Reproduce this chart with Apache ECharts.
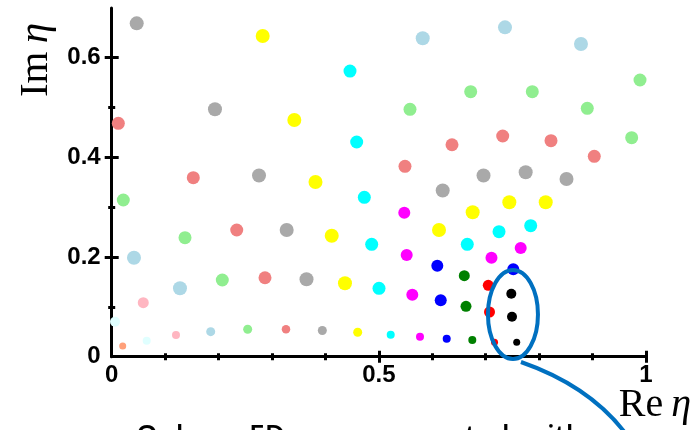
<!DOCTYPE html>
<html>
<head>
<meta charset="utf-8">
<script src="https://cdn.jsdelivr.net/npm/echarts@6/dist/echarts.min.js"></script>
<style>
html,body{margin:0;padding:0;background:#fff;}
#chart{width:698px;height:430px;}
</style>
</head>
<body>
<div id="chart"></div>
<script>
// ---------- data (Re eta, Im eta) ----------
const darkgray = [[0.0468,0.669],[0.1933,0.4965],[0.2757,0.3636],[0.3275,0.2543],[0.3646,0.1555],[0.3942,0.0526],[0.6195,0.3335],[0.6959,0.3636],[0.7748,0.3703],[0.8512,0.3566]];
const yellow = [[0.2826,0.6436],[0.3418,0.4750],[0.3814,0.3506],[0.4118,0.2428],[0.4366,0.1473],[0.4604,0.0490],[0.6126,0.2543],[0.6756,0.2898],[0.7442,0.3099],[0.8123,0.3099]];
const lightblue = [[0.5821,0.6390],[0.7361,0.6610],[0.8783,0.6275],[0.0417,0.1987],[0.1278,0.1373],[0.1853,0.0502]];
const lightgreen = [[0.9888,0.5553],[0.5583,0.4965],[0.6719,0.5318],[0.7872,0.5318],[0.8901,0.4985],[0.9732,0.4395],[0.0217,0.3145],[0.1372,0.2388],[0.2070,0.1539],[0.2545,0.0550]];
const lightcoral = [[0.0124,0.4684],[0.1527,0.3592],[0.2340,0.2543],[0.2869,0.1585],[0.3262,0.0550],[0.5489,0.3821],[0.6369,0.4254],[0.7318,0.4429],[0.8222,0.4335],[0.9032,0.4022]];
const cyan = [[0.4460,0.5733],[0.4585,0.4309],[0.4728,0.3199],[0.4866,0.2256],[0.5003,0.1373],[0.5222,0.0441],[0.6655,0.2256],[0.7249,0.2509],[0.7842,0.2629]];
const magenta = [[0.5476,0.2890],[0.5521,0.2041],[0.5626,0.1244],[0.5770,0.0401],[0.7108,0.1987],[0.7655,0.2181]];
const blue = [[0.6094,0.1826],[0.6158,0.1132],[0.6270,0.0361],[0.7516,0.1754]];
const green = [[0.6599,0.1626],[0.6631,0.1011],[0.6749,0.0335]];
const red = [[0.7048,0.1433],[0.7071,0.0897],[0.7165,0.0289]];
const black = [[0.7479,0.1264],[0.7492,0.0803],[0.7580,0.0289]];
const pink = [[0.0591,0.1084],[0.1203,0.0435]];
const lightcyan = [[0.0062,0.0702],[0.0655,0.0321]];
const lightsalmon = [[0.0206,0.0215]];

const xTickLabels = [0, 0.5, 1];
const yTickLabels = [0, 0.2, 0.4, 0.6];
const xMajorTicks = [0.5, 1];
const xMinorTicks = [0.1, 0.2, 0.3, 0.4, 0.6, 0.7, 0.8, 0.9];
const yMajorTicks = [0.2, 0.4, 0.6];
const yMinorTicks = [0.1, 0.3, 0.5];
const highlight = {center: [0.751, 0.0847], radius: [0.0468, 0.0893]}; // ellipse in data units

// ---------- styles ----------
const seriesList = [
  ['lightsalmon', lightsalmon, '#FFA07A', 7, 7],
  ['lightcyan', lightcyan, '#E0FFFF', 10, 8],
  ['pink', pink, '#FFB6C1', 11, 8],
  ['lightblue', lightblue, '#ADD8E6', 14, 9],
  ['lightgreen', lightgreen, '#90EE90', 13, 9],
  ['lightcoral', lightcoral, '#F08080', 13, 8.5],
  ['darkgray', darkgray, '#A9A9A9', 14, 9],
  ['yellow', yellow, '#FFFF00', 14, 9],
  ['cyan', cyan, '#00FFFF', 13, 8],
  ['magenta', magenta, '#FF00FF', 12, 8],
  ['blue', blue, '#0000FF', 12, 8],
  ['green', green, '#008000', 11, 8],
  ['red', red, '#FF0000', 11, 7],
  ['black', black, '#000000', 10, 7]
];

const labelFont = {color:'#000', fontSize:24, fontWeight:'bold', fontFamily:'Liberation Sans, Arial, sans-serif'};

function xAx(ticks, len, inside, main) {
  return {
    type:'value', min:0, max:1, position:'bottom', gridIndex:0,
    axisLine:{show:!!main, onZero:false, lineStyle:{color:'#000', width:3}},
    axisTick:{show:true, inside:inside, length:len, customValues:ticks, lineStyle:{color:'#000', width:3}},
    axisLabel:Object.assign({show:!!main, customValues:xTickLabels, margin:7, formatter:v=>String(v)}, labelFont),
    splitLine:{show:false}
  };
}
function yAx(ticks, len, inside, main) {
  return {
    type:'value', min:0, max:0.7, position:'left', gridIndex:0,
    axisLine:{show:!!main, onZero:false, lineStyle:{color:'#000', width:3}},
    axisTick:{show:true, inside:inside, length:len, customValues:ticks, lineStyle:{color:'#000', width:3}},
    axisLabel:Object.assign({show:!!main, customValues:yTickLabels, margin:11, formatter:v=>String(v)}, labelFont),
    splitLine:{show:false}
  };
}

const chart = echarts.init(document.getElementById('chart'), null, {renderer:'canvas'});
const option = {
  animation:false,
  backgroundColor:'#fff',
  grid:{left:111.7, right:52, top:7.9, bottom:73.3, containLabel:false},
  xAxis:[xAx(xMajorTicks,6,false,true), xAx(xMajorTicks,6,true,false), xAx(xMinorTicks,3.5,false,false), xAx(xMinorTicks,3.5,true,false)],
  yAxis:[yAx(yMajorTicks,7,false,true), yAx(yMajorTicks,7,true,false), yAx(yMinorTicks,3.5,false,false), yAx(yMinorTicks,3.5,true,false)],
  series: seriesList.map(([name, data, color, big, small]) => ({
    type:'scatter', name:name, data:data, xAxisIndex:0, yAxisIndex:0,
    symbol:'circle',
    symbolSize: v => (v[1] < 0.06 ? small : big),
    itemStyle:{color:color, opacity:1},
    emphasis:{disabled:true}
  }))
};
chart.setOption(option);

// annotation graphics positioned through the chart's own coordinate system
const c = chart.convertToPixel({gridIndex:0}, highlight.center);
const e = chart.convertToPixel({gridIndex:0}, [highlight.center[0]+highlight.radius[0], highlight.center[1]+highlight.radius[1]]);
const rx = Math.abs(e[0]-c[0]), ry = Math.abs(c[1]-e[1]);
const serif = 'Liberation Serif, Times New Roman, serif';
const capFont = '600 28px "Open Sans", sans-serif';
chart.setOption({
  graphic:[
    {type:'ellipse', shape:{cx:c[0], cy:c[1], rx:rx, ry:ry}, style:{fill:'none', stroke:'#0070C0', lineWidth:4}, z:100},
    {type:'bezierCurve', shape:{x1:c[0]+8, y1:c[1]+ry+3, cpx1:c[0]+77, cpy1:c[1]+ry+27, x2:c[0]+113, y2:c[1]+ry+75},
      style:{fill:'none', stroke:'#0070C0', lineWidth:4}, z:100},
    {type:'text', x:655, y:405, z:100,
      style:{text:'{a|Re\u2009}{b|η}', align:'center', verticalAlign:'middle',
        rich:{a:{fontFamily:serif, fontSize:40, fill:'#000'}, b:{fontFamily:serif, fontSize:40, fontStyle:'italic', fill:'#000'}}}},
    {type:'text', x:36, y:60, rotation:Math.PI/2, z:100,
      style:{text:'{a|Im\u2009}{b|η}', align:'center', verticalAlign:'middle',
        rich:{a:{fontFamily:serif, fontSize:41, fill:'#000'}, b:{fontFamily:serif, fontSize:41, fontStyle:'italic', fill:'#000'}}}},
    {type:'text', x:136, y:424, z:100, style:{text:'Only', font:capFont, fill:'#000', align:'left', verticalAlign:'top'}},
    {type:'text', x:249, y:424, z:100, style:{text:'ED', font:capFont, fill:'#000', align:'left', verticalAlign:'top'}},
    {type:'text', x:372, y:424, z:100, style:{text:'computed  with', font:capFont, fill:'#000', align:'left', verticalAlign:'top'}}
  ]
});
</script>
</body>
</html>
